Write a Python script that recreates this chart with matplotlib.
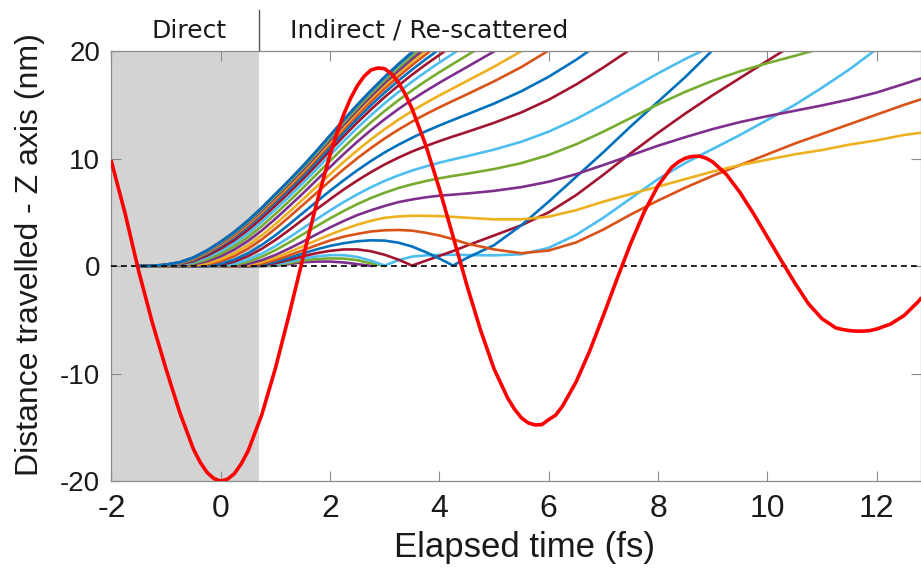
import numpy as np
import matplotlib
matplotlib.use("Agg")
import matplotlib.pyplot as plt

plt.rcParams['axes.unicode_minus'] = False

# shared time grid of the trajectories (fs)
t_traj = [-1.5, -1.25, -1.0, -0.75, -0.5, -0.25, 0.0, 0.25, 0.5, 0.75, 1.0, 1.25, 1.5,
          1.75, 2.0, 2.25, 2.5, 2.75, 3.0, 3.25, 3.5, 3.75, 4.0, 4.25, 4.5,
          5.0, 5.5, 6.0, 6.5, 7.0, 7.5, 8.0, 8.5, 9.0, 9.5, 10.0, 10.5, 11.0, 11.5,
          12.0, 12.5, 12.8]

# distance travelled (nm) for each trajectory, top of the fan first
z00 = [0, 0.03, 0.14, 0.36, 0.80, 1.46, 2.27, 3.19, 4.25, 5.43, 6.71, 7.98, 9.30,
       10.71, 12.16, 13.62, 15.02, 16.35, 17.61, 18.79, 19.91, 20.97]
z01 = [0, 0.03, 0.14, 0.36, 0.80, 1.46, 2.27, 3.18, 4.24, 5.42, 6.70, 7.97, 9.29,
       10.70, 12.15, 13.60, 15.00, 16.33, 17.59, 18.78, 19.89, 20.95]
z02 = [0, 0.02, 0.13, 0.34, 0.78, 1.44, 2.24, 3.15, 4.21, 5.38, 6.65, 7.92, 9.23,
       10.64, 12.08, 13.53, 14.93, 16.25, 17.50, 18.68, 19.80, 20.85]
z03 = [0, 0.01, 0.11, 0.31, 0.74, 1.38, 2.18, 3.07, 4.11, 5.28, 6.53, 7.79, 9.09,
       10.48, 11.92, 13.35, 14.73, 16.04, 17.29, 18.45, 19.55, 20.59]
z04 = [0, 0.01, 0.10, 0.29, 0.70, 1.33, 2.11, 2.98, 4.01, 5.16, 6.40, 7.65, 8.93,
       10.31, 11.73, 13.15, 14.52, 15.81, 17.04, 18.19, 19.28, 20.31]
z05 = [0, 0, 0.09, 0.27, 0.66, 1.28, 2.05, 2.91, 3.93, 5.06, 6.29, 7.52, 8.79,
       10.16, 11.56, 12.97, 14.32, 15.61, 16.82, 17.96, 19.03, 20.05, 21.02]
z06 = [0, 0, 0.08, 0.24, 0.62, 1.22, 1.97, 2.81, 3.81, 4.93, 6.14, 7.35, 8.60,
       9.95, 11.34, 12.73, 14.06, 15.33, 16.52, 17.64, 18.70, 19.69, 20.64]
z07 = [0, 0, 0.07, 0.21, 0.57, 1.14, 1.87, 2.69, 3.67, 4.76, 5.95, 7.14, 8.37,
       9.69, 11.06, 12.42, 13.73, 14.98, 16.15, 17.25, 18.28, 19.25, 20.18]
z08 = [0, 0, 0.06, 0.16, 0.46, 0.97, 1.63, 2.42, 3.37, 4.45, 5.63, 6.83, 8.07,
       9.39, 10.74, 12.08, 13.37, 14.58, 15.73, 16.80, 17.81, 18.75, 19.65, 20.53]
z09 = [0, 0, 0.05, 0.11, 0.36, 0.80, 1.40, 2.15, 3.06, 4.11, 5.27, 6.46, 7.70,
       9.00, 10.32, 11.62, 12.87, 14.05, 15.16, 16.19, 17.16, 18.07, 18.94, 19.77, 20.59]
z10 = [0, 0, 0.04, 0.08, 0.25, 0.61, 1.16, 1.84, 2.71, 3.72, 4.85, 6.03, 7.25,
       8.52, 9.79, 11.05, 12.25, 13.38, 14.44, 15.43, 16.35, 17.22, 18.04, 18.82, 19.59,
       21.16]
z11 = [0, 0, 0.03, 0.05, 0.15, 0.44, 0.91, 1.54, 2.35, 3.31, 4.40, 5.56, 6.75,
       7.99, 9.22, 10.43, 11.58, 12.66, 13.67, 14.61, 15.48, 16.29, 17.06, 17.79, 18.51,
       19.97, 21.56]
z12 = [0, 0, 0.02, 0.03, 0.07, 0.26, 0.64, 1.20, 1.95, 2.86, 3.91, 5.03, 6.19,
       7.38, 8.55, 9.70, 10.78, 11.80, 12.75, 13.62, 14.43, 15.18, 15.88, 16.55, 17.21,
       18.55, 20.00, 21.66]
z13 = [0, 0, 0.01, 0.02, 0.03, 0.14, 0.45, 0.94, 1.63, 2.48, 3.48, 4.56, 5.68,
       6.80, 7.93, 9.01, 10.04, 10.99, 11.88, 12.69, 13.44, 14.13, 14.77, 15.38, 15.97,
       17.19, 18.52, 20.06, 21.83]
z14 = [0, 0, 0, 0, 0, 0.02, 0.22, 0.61, 1.20, 1.97, 2.87, 3.88, 4.93,
       5.98, 7.01, 7.99, 8.92, 9.79, 10.58, 11.29, 11.94, 12.54, 13.08, 13.60, 14.10,
       15.12, 16.27, 17.62, 19.19, 20.96]
z15 = [0, 0, 0, 0, 0, 0, 0.11, 0.42, 0.93, 1.61, 2.43, 3.35, 4.32,
       5.28, 6.22, 7.13, 7.97, 8.75, 9.46, 10.09, 10.66, 11.16, 11.63, 12.06, 12.47,
       13.33, 14.30, 15.48, 16.89, 18.48, 20.18, 21.86]
z16 = [0, 0, 0, 0, 0, 0, 0.02, 0.21, 0.60, 1.16, 1.86, 2.66, 3.51,
       4.35, 5.18, 5.96, 6.68, 7.34, 7.93, 8.44, 8.89, 9.27, 9.62, 9.93, 10.22,
       10.84, 11.57, 12.51, 13.68, 15.04, 16.49, 17.93, 19.28, 20.49]
z17 = [0, 0, 0, 0, 0, 0, 0, 0.10, 0.40, 0.87, 1.48, 2.19, 2.95,
       3.70, 4.44, 5.13, 5.77, 6.34, 6.83, 7.26, 7.61, 7.91, 8.17, 8.39, 8.59,
       9.03, 9.58, 10.34, 11.33, 12.51, 13.78, 15.05, 16.22, 17.25, 18.13, 18.88, 19.56,
       20.26]
z18 = [0, 0, 0, 0, 0, 0, 0, 0.02, 0.20, 0.55, 1.04, 1.63, 2.27,
       2.95, 3.60, 4.20, 4.75, 5.20, 5.60, 5.95, 6.20, 6.40, 6.55, 6.65, 6.75,
       7.00, 7.35, 7.85, 8.55, 9.40, 10.30, 11.20, 12.00, 12.75, 13.40, 13.95, 14.45,
       14.95, 15.50, 16.15, 16.95, 17.45]
z19 = [0, 0, 0, 0, 0, 0, 0, 0, 0.10, 0.37, 0.78, 1.29, 1.84,
       2.39, 2.93, 3.42, 3.86, 4.22, 4.50, 4.62, 4.68, 4.68, 4.64, 4.58, 4.50,
       4.35, 4.35, 4.60, 5.20, 6.00, 6.70, 7.40, 8.10, 8.80, 9.40, 9.90, 10.40,
       10.80, 11.30, 11.70, 12.20, 12.40]
z20 = [0, 0, 0, 0, 0, 0, 0, 0, 0.03, 0.22, 0.56, 0.99, 1.47,
       1.94, 2.38, 2.74, 3.00, 3.22, 3.33, 3.36, 3.30, 3.10, 2.85, 2.50, 2.10,
       1.55, 1.20, 1.45, 2.20, 3.40, 4.80, 6.10, 7.30, 8.40, 9.40, 10.40, 11.40,
       12.30, 13.20, 14.10, 15.00, 15.50]
z21 = [0, 0, 0, 0, 0, 0, 0, 0, 0.01, 0.13, 0.40, 0.76, 1.17,
       1.55, 1.88, 2.13, 2.31, 2.40, 2.37, 2.18, 1.82, 1.30, 0.70, 0.05, 0.75,
       1.95, 3.80, 6.00, 8.30, 10.60, 13.00, 15.30, 17.60, 20.10]
z22 = [0, 0, 0, 0, 0, 0, 0, 0, 0, 0.06, 0.27, 0.57, 0.91,
       1.20, 1.42, 1.55, 1.55, 1.38, 1.05, 0.60, 0.05, 0.50, 0.95, 1.40, 1.90,
       2.85, 3.80, 5.00, 6.60, 8.50, 10.50, 12.40, 14.20, 15.90, 17.50, 19.10, 20.70]
z23 = [0, 0, 0, 0, 0, 0, 0, 0, 0, 0.02, 0.16, 0.41, 0.69,
       0.90, 1.02, 1.02, 0.85, 0.50, 0.05, 0.55, 0.88, 1.00, 1.05, 1.05, 1.03,
       1.00, 1.10, 1.70, 2.90, 4.50, 6.30, 8.10, 9.60, 10.90, 12.20, 13.60, 15.00,
       16.60, 18.30, 20.20]
z24 = [0, 0, 0, 0, 0, 0, 0, 0, 0, 0, 0.09, 0.28, 0.51,
       0.65, 0.72, 0.70, 0.55, 0.25, 0.02]
z25 = [0, 0, 0, 0, 0, 0, 0, 0, 0, 0, 0.04, 0.18, 0.36,
       0.42, 0.42, 0.34, 0.18, 0.02]

trajectories = [z00, z01, z02, z03, z04, z05, z06, z07, z08, z09, z10, z11, z12,
                z13, z14, z15, z16, z17, z18, z19, z20, z21, z22, z23, z24, z25]

# laser field (scaled), red curve
field_t = [-2.0, -1.75, -1.5, -1.25, -1.0, -0.75, -0.5, -0.375, -0.25, -0.125, 0.0,
           0.125, 0.25, 0.375, 0.5, 0.75, 1.0, 1.25, 1.5, 1.75, 2.0, 2.125, 2.25, 2.375,
           2.5, 2.625, 2.75, 2.875, 3.0, 3.125, 3.25, 3.375, 3.5, 3.75, 4.0, 4.25, 4.5,
           4.75, 5.0, 5.25, 5.375, 5.5, 5.625, 5.75, 5.875, 6.0, 6.125, 6.25, 6.5, 6.75,
           7.0, 7.25, 7.5, 7.75, 8.0, 8.25, 8.375, 8.5, 8.625, 8.75, 8.875, 9.0, 9.25,
           9.5, 9.75, 10.0, 10.25, 10.5, 10.75, 11.0, 11.25, 11.375, 11.5, 11.625,
           11.75, 11.875, 12.0, 12.25, 12.5, 12.75, 12.8]
field_z = [9.72, 4.90, -0.50, -5.30, -9.60, -13.62, -17.03, -18.27, -19.20, -19.77, -20.00,
           -19.82, -19.30, -18.39, -17.20, -13.83, -9.50, -4.53, 0.68, 5.78, 10.37, 12.36,
           14.12, 15.61, 16.79, 17.68, 18.25, 18.43, 18.36, 17.87, 17.09, 15.99, 14.63,
           11.25, 7.19, 2.74, -1.74, -5.92, -9.57, -12.29, -13.32, -14.12, -14.59, -14.78,
           -14.75, -14.28, -13.87, -13.04, -10.78, -7.88, -4.59, -1.18, 2.12, 5.08, 7.49,
           9.20, 9.70, 10.04, 10.20, 10.23, 10.05, 9.69, 8.53, 6.84, 4.85, 2.70, 0.55,
           -1.55, -3.50, -4.90, -5.75, -5.90, -6.00, -6.05, -6.05, -6.00, -5.85, -5.40,
           -4.60, -3.35, -3.05]

palette = ['#0072BD', '#A2142F', '#4DBEEE', '#77AC30', '#7E2F8E', '#EDB120', '#D95319']
direct_end = 0.7

fig = plt.figure(figsize=(9.21, 5.81), dpi=100)
ax = fig.add_axes([0.121, 0.172, 0.879, 0.740])

ax.axvspan(-2, direct_end, color='#d3d3d3', lw=0, zorder=0)

for i in reversed(range(len(trajectories))):
    z = trajectories[i]
    ax.plot(t_traj[:len(z)], z, color=palette[i % 7], lw=1.9, zorder=2,
            solid_joinstyle='round')

ax.axhline(0, color='black', lw=1.2, ls=(0, (3.5, 2.5)), zorder=3)
ax.plot(field_t, field_z, color='#ff0000', lw=2.6, zorder=4, solid_joinstyle='round')

ax.set_xlim(-2, 12.81)
ax.set_ylim(-20, 20)
ax.set_xticks([-2, 0, 2, 4, 6, 8, 10, 12])
ax.set_yticks([-20, -10, 0, 10, 20])

for s in ax.spines.values():
    s.set_color('#8c8c8c')
    s.set_linewidth(0.9)
ax.tick_params(direction='in', length=7, width=0.8, color='#8c8c8c',
               top=True, right=True, labelcolor='#1a1a1a')
ax.tick_params(axis='x', pad=9)
ax.tick_params(axis='y', pad=8)
for lab in ax.get_xticklabels():
    lab.set_family('Liberation Sans')
    lab.set_fontsize(23)
for lab in ax.get_yticklabels():
    lab.set_family('Liberation Sans')
    lab.set_fontsize(20)

ax.set_xlabel('Elapsed time (fs)', fontsize=25, color='#1a1a1a', family='Liberation Sans')
ax.xaxis.set_label_coords(0.51, -0.115)
ax.set_ylabel('Distance travelled - Z axis (nm)', fontsize=23, color='#1a1a1a',
              family='Liberation Sans')
ax.yaxis.set_label_coords(-0.082, 0.526)

# separator between the two regimes above the axes
ax.plot([direct_end, direct_end], [20, 23.8], color='#555555', lw=1.0, clip_on=False)
fig.text(189 / 921, 1 - 38 / 581, 'Direct', ha='center', va='baseline',
         fontsize=18, family='DejaVu Sans', color='#1a1a1a')
fig.text(290 / 921, 1 - 38 / 581, 'Indirect / Re-scattered', ha='left', va='baseline',
         fontsize=18, family='DejaVu Sans', color='#1a1a1a')

fig.savefig('out.png', dpi=100)
